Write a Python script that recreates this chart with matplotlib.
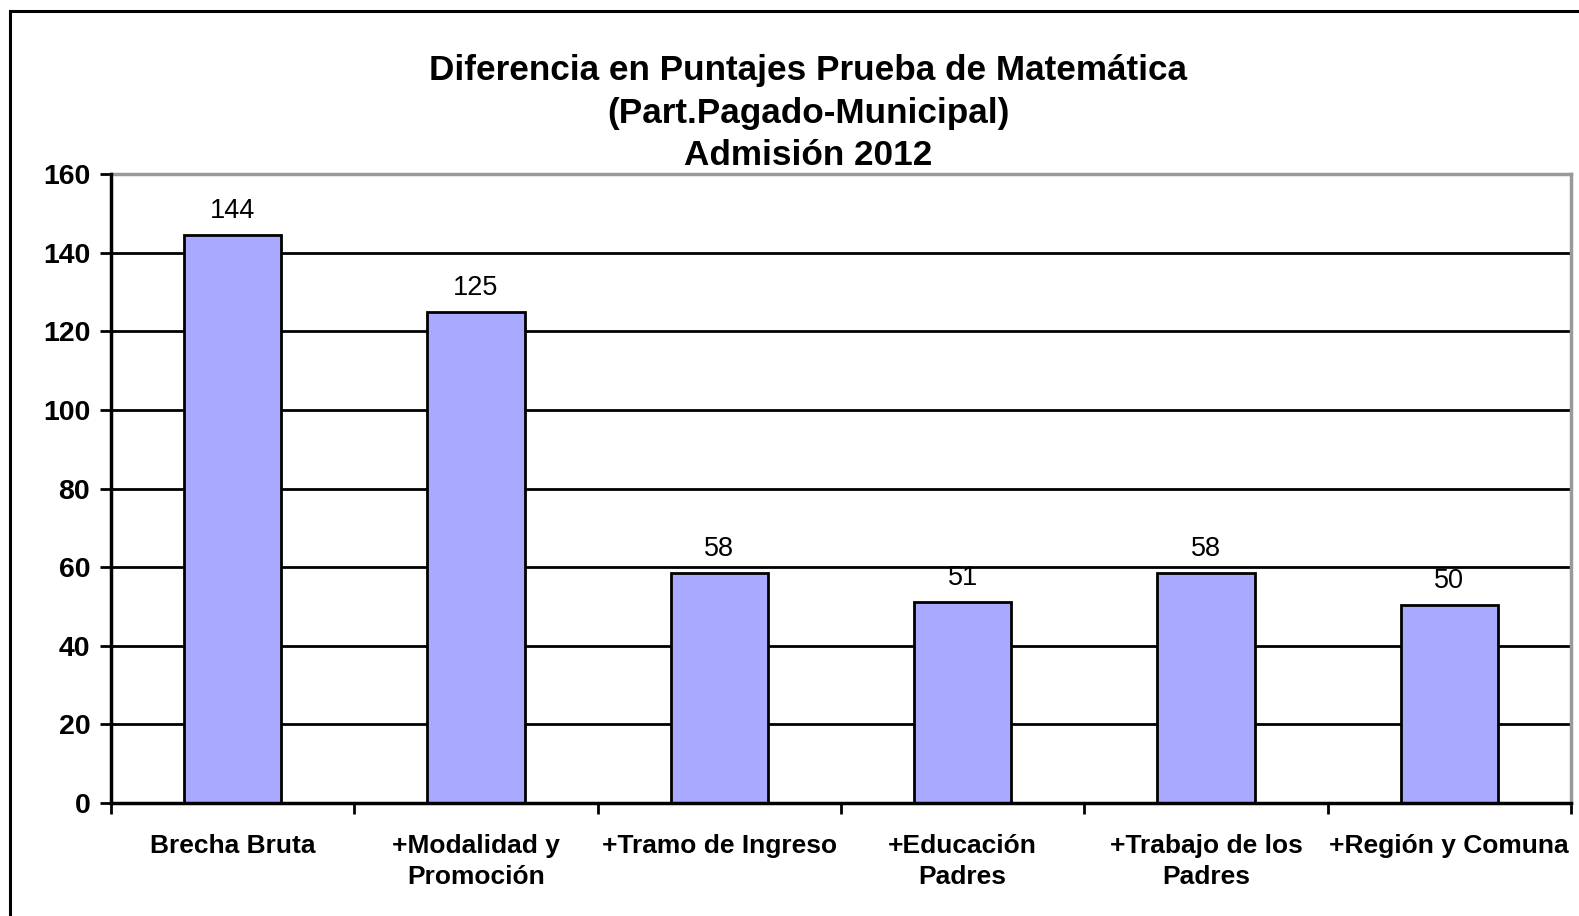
import matplotlib
matplotlib.use("Agg")
from matplotlib import pyplot as plt
from matplotlib.patches import Rectangle

# Data
categories = [
    "Brecha Bruta",
    "+Modalidad y\nPromoción",
    "+Tramo de Ingreso",
    "+Educación\nPadres",
    "+Trabajo de los\nPadres",
    "+Región y Comuna",
]
values = [144.4, 124.8, 58.4, 51.1, 58.4, 50.3]
y_ticks = [0, 20, 40, 60, 80, 100, 120, 140, 160]

title = "Diferencia en Puntajes Prueba de Matemática\n(Part.Pagado-Municipal)\nAdmisión 2012"

plt.rcParams['font.family'] = ['Liberation Sans', 'DejaVu Sans']

fig = plt.figure(figsize=(15.79, 9.16), dpi=100)
ax = fig.add_axes([0.0703, 0.1234, 0.9246, 0.6866])

# outer chart frame (runs off the right/bottom edge like the original)
fig.patches.append(Rectangle((10 / 1579, -0.05), 1.2, 1 - 11 / 916 + 0.05,
                             transform=fig.transFigure, fill=False,
                             edgecolor="black", linewidth=2.2, clip_on=False))

x = range(len(categories))
bars = ax.bar(x, values, width=0.4, color="#A9AAFF", edgecolor="black",
              linewidth=2, zorder=3)
ax.bar_label(bars, fmt="%.0f", padding=8, fontsize=19.5)

ax.set_xlim(-0.5, len(categories) - 0.5)
ax.set_ylim(0, 160)
ax.set_yticks(y_ticks)
ax.set_yticklabels([str(t) for t in y_ticks], fontsize=20.5, fontweight="bold")

# category labels centred, ticks sit between categories
ax.set_xticks(list(x))
ax.set_xticklabels(categories, fontsize=19, fontweight="bold", linespacing=1.4)
ax.tick_params(axis="x", length=0, pad=22)
ax.set_xticks([i - 0.5 for i in range(len(categories) + 1)], minor=True)
ax.tick_params(axis="x", which="minor", length=8, width=2, direction="out")
ax.tick_params(axis="y", length=8, width=2, direction="out", pad=7)

ax.yaxis.grid(True, color="black", linewidth=2, zorder=0)
ax.set_axisbelow(True)

for side in ["top", "right"]:
    ax.spines[side].set_color("#999999")
    ax.spines[side].set_linewidth(2.5)
for side in ["left", "bottom"]:
    ax.spines[side].set_color("black")
    ax.spines[side].set_linewidth(2.5)
    ax.spines[side].set_zorder(4)

fig.text(0.512, 1 - 113 / 916, title, ha="center", va="center",
         fontsize=25.3, fontweight="bold", linespacing=1.37)

fig.savefig("out.png", dpi=100)
